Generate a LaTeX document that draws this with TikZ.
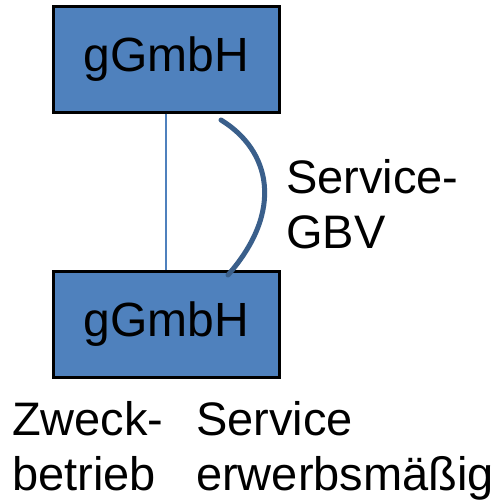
\documentclass[tikz,border=0pt]{standalone}
\usepackage{fontspec}
\setmainfont{Liberation Sans}
\definecolor{boxblue}{HTML}{4F81BD}
\definecolor{linkblue}{HTML}{3A5F8B}
\begin{document}
\begin{tikzpicture}[x=1pt,y=-1pt,
  entity/.style={draw=black, line width=3pt, fill=boxblue, minimum width=226pt,
    minimum height=106pt, inner sep=0pt, font=\fontsize{48}{55}\selectfont},
  lbl/.style={inner sep=0pt, align=left, font=\fontsize{47}{55}\selectfont},
  link/.style={draw=linkblue, line width=5pt, line cap=round},
  tie/.style={draw=boxblue, line width=1.5pt}]
\useasboundingbox (0,0) rectangle (501,499);
\node[entity] (top) at (166,59) {gGmbH};
\node[entity] (bot) at (166,324.5) {gGmbH};
\draw[tie] (top.south) -- (bot.north);
\coordinate (s) at (221,120);
\coordinate (e) at (228,275);
\draw[link] (s) .. controls (270,150) and (285,210) .. (e);
% multi-line labels are placed by the baseline of their last line
\node[lbl, anchor=base west] (gbv) at (286,248) {Service-\\GBV};
\node[lbl, anchor=base west] (zw) at (12,490) {Zweck-\\betrieb};
\node[lbl, anchor=base west] (se) at (196,490) {Service\\erwerbsmäßig};
\end{tikzpicture}
\end{document}
